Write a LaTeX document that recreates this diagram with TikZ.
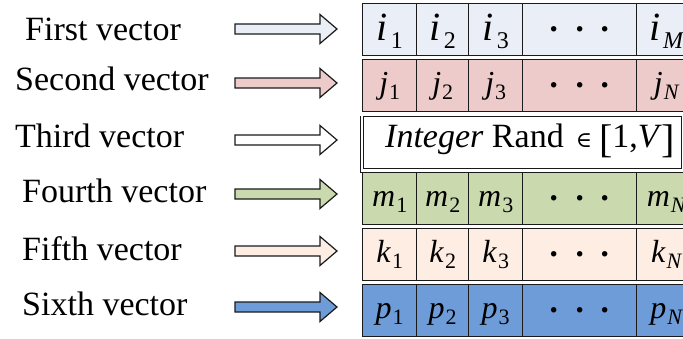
\documentclass[tikz,border=0pt]{standalone}
\usepackage{fontspec}
\setmainfont{Liberation Serif}
\newfontfamily\symfnt{DejaVu Serif}
\definecolor{cA}{HTML}{E9EEF7}
\definecolor{cB}{HTML}{EDCBCB}
\definecolor{cD}{HTML}{CADAAE}
\definecolor{cE}{HTML}{FDEDE3}
\definecolor{cF}{HTML}{6E9CD9}
\definecolor{ln}{HTML}{1A1A1A}
\newcommand\ibig[2]{\fontsize{40}{40}\selectfont\textit{#1}\kern3pt\raisebox{-8pt}{\fontsize{24}{24}\selectfont #2}}
\newcommand\vsub[2]{\fontsize{32}{32}\selectfont\textit{#1}\kern1pt\raisebox{-6pt}{\fontsize{22}{22}\selectfont #2}}
\newcommand\dotsrow[1]{\raisebox{#1}{\fontsize{46}{46}\selectfont ·\hspace{10pt}·\hspace{10pt}·}}
\newcommand\blockarrow[2]{\draw[arrowline, fill=#1] (235,{#2-5}) -- (320,{#2-5}) -- (320,{#2-14.5}) -- (337,#2) -- (320,{#2+14.5}) -- (320,{#2+5}) -- (235,{#2+5}) -- cycle;}
\begin{document}
\begin{tikzpicture}[x=1pt,y=-1pt,
  arrowline/.style={draw=ln, line width=1.2pt, line join=miter},
  lbl/.style={anchor=base west, inner sep=0pt, font=\fontsize{34}{34}\selectfont},
  cell/.style={draw=ln, line width=1.4pt, anchor=north west, inner sep=0pt, minimum height=52pt, text height=34pt, text depth=18pt},
  cellA/.style={cell, fill=cA, text height=37pt, text depth=15pt},
  cellB/.style={cell, fill=cB},
  cellD/.style={cell, fill=cD},
  cellE/.style={cell, fill=cE},
  cellF/.style={cell, fill=cF},
  wa/.style={minimum width=54pt},
  wb/.style={minimum width=52pt},
  wc/.style={minimum width=114pt},
  wd/.style={minimum width=60pt}]
\useasboundingbox (0,0) rectangle (683,338);
\clip (0,0) rectangle (683,338);

% labels
\node[lbl] (l1) at (25,40) {First vector};
\node[lbl] (l2) at (15,90) {Second vector};
\node[lbl] (l3) at (15,147) {Third vector};
\node[lbl] (l4) at (22,202) {Fourth vector};
\node[lbl] (l5) at (22,260) {Fifth vector};
\node[lbl] (l6) at (22,315) {Sixth vector};

% arrows
\blockarrow{cA}{29}
\blockarrow{cB}{83}
\blockarrow{white}{140}
\blockarrow{cD}{194}
\blockarrow{cE}{251}
\blockarrow{cF}{307}

% row 1
\node[cellA,wa] (a1) at (362,3) {\ibig{i}{1}};
\node[cellA,wb] (a2) at (416,3) {\ibig{i}{2}};
\node[cellA,wa] (a3) at (468,3) {\ibig{i}{3}};
\node[cellA,wc] (a4) at (522,3) {\dotsrow{-3.5pt}};
\node[cellA,wd] (a5) at (636,3) {\ibig{i}{\textit{M}}\hspace{6pt}};
% row 2
\node[cellB,wa] (b1) at (362,59) {\vsub{j}{1}};
\node[cellB,wb] (b2) at (416,59) {\vsub{j}{2}};
\node[cellB,wa] (b3) at (468,59) {\vsub{j}{3}};
\node[cellB,wc] (b4) at (522,59) {\dotsrow{-6.5pt}};
\node[cellB,wd] (b5) at (636,59) {\vsub{j}{\textit{N}}\hspace{6pt}};
% row 3
\node[cell, fill=white, minimum width=318pt, minimum height=50pt] (c1) at (363,116) {};
\draw[ln, line width=1pt] ([xshift=-3pt]c1.north west) -- ([xshift=-3pt,yshift=-3pt]c1.south west) -- ([yshift=-3pt]c1.south east);
\node[anchor=base west, inner sep=0pt] (c1t) at (385,147)
  {\fontsize{34}{34}\selectfont\textit{Integer} Rand\hspace{12pt}{\symfnt\fontsize{22}{22}\selectfont ∈}\hspace{7pt}\raisebox{-5pt}{\fontsize{40}{40}\selectfont[}1,\textit{V}\raisebox{-5pt}{\fontsize{40}{40}\selectfont]}};
% row 4
\node[cellD,wa] (d1) at (362,172) {\vsub{m}{1}};
\node[cellD,wb] (d2) at (416,172) {\vsub{m}{2}};
\node[cellD,wa] (d3) at (468,172) {\vsub{m}{3}};
\node[cellD,wc] (d4) at (522,172) {\dotsrow{-6.5pt}};
\node[cellD,wd] (d5) at (636,172) {\vsub{m}{\textit{N}}\hspace{6pt}};
% row 5
\node[cellE,wa] (e1) at (362,228) {\vsub{k}{1}};
\node[cellE,wb] (e2) at (416,228) {\vsub{k}{2}};
\node[cellE,wa] (e3) at (468,228) {\vsub{k}{3}};
\node[cellE,wc] (e4) at (522,228) {\dotsrow{-6.5pt}};
\node[cellE,wd] (e5) at (636,228) {\vsub{k}{\textit{N}}\hspace{6pt}};
% row 6
\node[cellF,wa] (f1) at (362,284) {\vsub{p}{1}};
\node[cellF,wb] (f2) at (416,284) {\vsub{p}{2}};
\node[cellF,wa] (f3) at (468,284) {\vsub{p}{3}};
\node[cellF,wc] (f4) at (522,284) {\dotsrow{-6.5pt}};
\node[cellF,wd] (f5) at (636,284) {\vsub{p}{\textit{N}}\hspace{6pt}};
\end{tikzpicture}
\end{document}
